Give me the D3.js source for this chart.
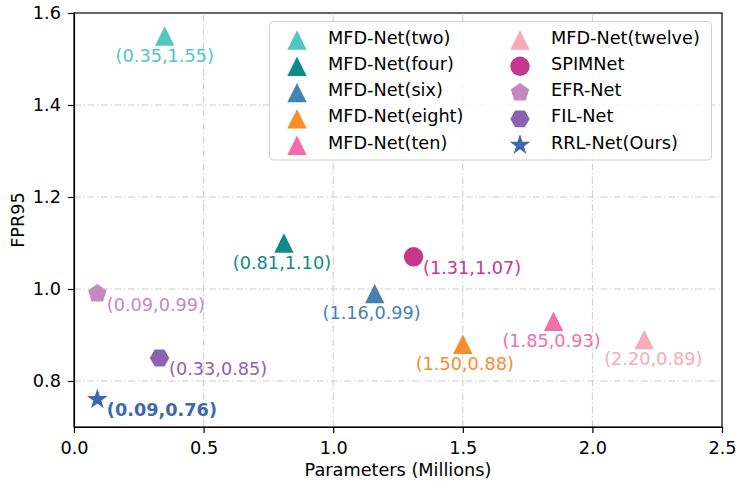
<!DOCTYPE html>
<meta charset="utf-8">
<script src="https://d3js.org/d3.v7.min.js"></script>
<style>
body { margin: 0; background: #fff; }
text { font-family: "DejaVu Sans", sans-serif; }
.grid line { stroke: #cccccc; stroke-width: 1px; stroke-dasharray: 7,2.5,1.5,2.5; }
.axis path, .axis line { stroke: #000; stroke-width: 1.2px; }
</style>
<body>
<script>

// data
var names = ["MFD-Net(two)", "MFD-Net(four)", "MFD-Net(six)", "MFD-Net(eight)", "MFD-Net(ten)",
             "MFD-Net(twelve)", "SPIMNet", "EFR-Net", "FIL-Net", "RRL-Net(Ours)"];
var params = [0.35, 0.81, 1.16, 1.50, 1.85, 2.20, 1.31, 0.09, 0.33, 0.09];
var fpr95 = [1.55, 1.10, 0.99, 0.88, 0.93, 0.89, 1.07, 0.99, 0.85, 0.76];
var shapes = ["tri", "tri", "tri", "tri", "tri", "tri", "circle", "pent", "hex", "star"];
var colors = ["#52c6c0", "#0f8a87", "#4682b4", "#f98c2b", "#f26eab", "#f7abb8",
              "#c5378f", "#c48abd", "#8c62b5", "#3f66b1"];
var xTicks = [0.0, 0.5, 1.0, 1.5, 2.0, 2.5];
var yTicks = [0.8, 1.0, 1.2, 1.4, 1.6];

// small nudges of the annotation text
var labelDx = [0, -2, -3, 2, -2, 9, 0, 0, 0, 0];

var width = 736, height = 481;
var margin = {left: 74, right: 14, top: 13, bottom: 54};
var fs = "17.7px";

var svg = d3.select("body").append("svg")
    .attr("width", width)
    .attr("height", height);

var x = d3.scaleLinear().domain([0, 2.5]).range([margin.left, width - margin.right]);
var y = d3.scaleLinear().domain([0.7, 1.6]).range([height - margin.bottom, margin.top]);

// grid
var grid = svg.append("g").attr("class", "grid");
grid.selectAll(".gx").data(xTicks.slice(1, -1)).enter().append("line")
    .attr("x1", function(d) { return x(d); }).attr("x2", function(d) { return x(d); })
    .attr("y1", y(0.7)).attr("y2", y(1.6));
grid.selectAll(".gy").data(yTicks.slice(0, -1)).enter().append("line")
    .attr("x1", x(0)).attr("x2", x(2.5))
    .attr("y1", function(d) { return y(d); }).attr("y2", function(d) { return y(d); });

// marker shapes, centred on their bounding box like matplotlib
function polygon(n, r, rot) {
  var pts = [];
  for (var i = 0; i < n; i++) {
    var a = rot + i * 2 * Math.PI / n;
    pts.push([r * Math.sin(a), -r * Math.cos(a)]);
  }
  return "M" + pts.join("L") + "Z";
}
function markerPath(shape, r) {
  if (shape == "tri") return "M0," + (-r) + "L" + (-r) + "," + r + "L" + r + "," + r + "Z";
  if (shape == "circle") return d3.arc()({innerRadius: 0, outerRadius: r, startAngle: 0, endAngle: 2 * Math.PI});
  if (shape == "pent") return polygon(5, r, 0);
  if (shape == "hex") return polygon(6, r, Math.PI / 2);
  if (shape == "star") {
    var pts = [];
    for (var i = 0; i < 10; i++) {
      var rr = (i % 2 == 0) ? r * 1.12 : r * 1.12 * 0.382;
      var a = i * Math.PI / 5;
      pts.push([rr * Math.sin(a), -rr * Math.cos(a)]);
    }
    return "M" + pts.join("L") + "Z";
  }
}

var points = d3.range(names.length);

svg.append("g").selectAll("path").data(points).enter().append("path")
    .attr("d", function(i) { return markerPath(shapes[i], 9.7); })
    .attr("transform", function(i) { return "translate(" + x(params[i]) + "," + y(fpr95[i]) + ")"; })
    .attr("fill", function(i) { return colors[i]; });

svg.append("g").selectAll("text").data(points).enter().append("text")
    .attr("x", function(i) { return x(params[i]) + (shapes[i] == "tri" ? labelDx[i] : 9.5); })
    .attr("y", function(i) { return y(fpr95[i]) + (shapes[i] == "tri" ? 25.5 : 17); })
    .attr("text-anchor", function(i) { return shapes[i] == "tri" ? "middle" : "start"; })
    .style("font-size", fs)
    .style("font-weight", function(i) { return i == names.length - 1 ? "bold" : "normal"; })
    .attr("fill", function(i) { return colors[i]; })
    .text(function(i) { return "(" + params[i].toFixed(2) + "," + fpr95[i].toFixed(2) + ")"; });

// axes
var xAxis = svg.append("g").attr("class", "axis")
    .attr("transform", "translate(0," + y(0.7) + ")")
    .call(d3.axisBottom(x).tickValues(xTicks).tickFormat(d3.format(".1f")).tickSize(6).tickSizeOuter(0));
var yAxis = svg.append("g").attr("class", "axis")
    .attr("transform", "translate(" + x(0) + ",0)")
    .call(d3.axisLeft(y).tickValues(yTicks).tickFormat(d3.format(".1f")).tickSize(6).tickSizeOuter(0));
svg.selectAll(".axis text").style("font-size", fs).style("font-family", "DejaVu Sans").attr("fill", "#000");
xAxis.selectAll("text").attr("dy", "1em");
yAxis.selectAll("text").attr("dx", "-4");

// frame
svg.append("rect")
    .attr("x", x(0)).attr("y", y(1.6))
    .attr("width", x(2.5) - x(0)).attr("height", y(0.7) - y(1.6))
    .attr("fill", "none").attr("stroke", "#000").attr("stroke-width", 1.2);

svg.append("text")
    .attr("x", (x(0) + x(2.5)) / 2).attr("y", 476)
    .attr("text-anchor", "middle")
    .style("font-size", fs)
    .text("Parameters (Millions)");
svg.append("text")
    .attr("transform", "translate(23.5," + (y(0.7) + y(1.6)) / 2 + ") rotate(-90)")
    .attr("text-anchor", "middle")
    .style("font-size", fs)
    .text("FPR95");

// legend
var legend = svg.append("g");
legend.append("rect")
    .attr("x", 269.5).attr("y", 21.5).attr("width", 442).attr("height", 138.5)
    .attr("rx", 4).attr("fill", "#fff").attr("fill-opacity", 0.85)
    .attr("stroke", "#d0d0d0").attr("stroke-width", 1);
var item = legend.selectAll(".item").data(points).enter().append("g")
    .attr("transform", function(i) {
      var col = Math.floor(i / 5), row = i % 5;
      return "translate(" + (col == 0 ? 297 : 520) + "," + (40 + row * 26.3) + ")";
    });
item.append("path")
    .attr("d", function(i) { return markerPath(shapes[i], 9.7); })
    .attr("fill", function(i) { return colors[i]; });
item.append("text")
    .attr("x", 31).attr("y", 3.5)
    .style("font-size", fs)
    .attr("fill", "#000")
    .text(function(i) { return names[i]; });

</script>
</body>
